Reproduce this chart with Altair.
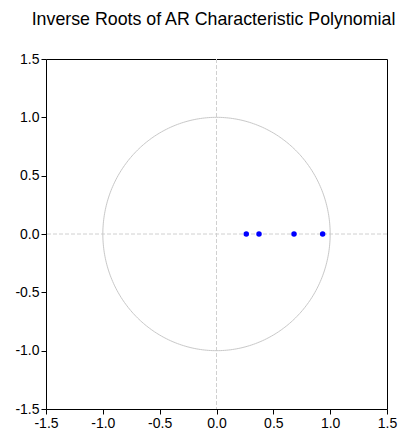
import altair as alt
import numpy as np
import pandas as pd

# Inverse roots (real, imaginary)
root_re = [0.262, 0.374, 0.682, 0.934]
root_im = [0.0, 0.0, 0.0, 0.0]
tick_vals = [-1.5, -1.0, -0.5, 0.0, 0.5, 1.0, 1.5]

roots = pd.DataFrame({"re": root_re, "im": root_im})

# unit circle reference
theta = np.linspace(0, 2 * np.pi, 361)
circle = pd.DataFrame({"x": np.cos(theta), "y": np.sin(theta), "o": np.arange(361)})

xs = alt.Scale(domain=[-1.5, 1.5], nice=False, zero=False)
ys = alt.Scale(domain=[-1.5, 1.5], nice=False, zero=False)

lbl = "datum.value < 0 ? '-' + format(-datum.value, '.1f') : format(datum.value, '.1f')"

def make_axis():
    return alt.Axis(values=tick_vals, labelExpr=lbl, title=None, grid=False, domain=False,
                    tickColor="black", tickSize=5, labelColor="black", labelFontSize=14,
                    labelFont="Liberation Sans", labelPadding=2, labelFlush=False)

circ = alt.Chart(circle).mark_line(color="#c8c8c8", strokeWidth=1).encode(
    x=alt.X("x:Q", scale=xs, axis=make_axis()),
    y=alt.Y("y:Q", scale=ys, axis=make_axis()),
    order="o:Q",
)

vline = alt.Chart(pd.DataFrame({"v": [0.0]})).mark_rule(
    color="#d0d0d0", strokeDash=[4, 2], strokeWidth=1
).encode(x=alt.X("v:Q", scale=xs))
hline = alt.Chart(pd.DataFrame({"v": [0.0]})).mark_rule(
    color="#d0d0d0", strokeDash=[4, 2], strokeWidth=1
).encode(y=alt.Y("v:Q", scale=ys))

pts = alt.Chart(roots).mark_circle(color="#0000ff", size=30, opacity=1).encode(
    x=alt.X("re:Q", scale=xs),
    y=alt.Y("im:Q", scale=ys),
)

chart = alt.layer(vline, hline, circ, pts).properties(
    width=341,
    height=350,
    title=alt.TitleParams("Inverse Roots of AR Characteristic Polynomial",
                          font="Liberation Sans", fontSize=17.8, fontWeight="normal",
                          color="black", anchor="middle", offset=23, dx=-3),
    autosize=alt.AutoSizeParams(type="none"),
    padding={"left": 46, "top": 59, "right": 25, "bottom": 27},
).configure(background="white").configure_view(stroke="black", strokeWidth=1)

chart.save("out.html", embed_options={"renderer": "svg", "actions": False})
